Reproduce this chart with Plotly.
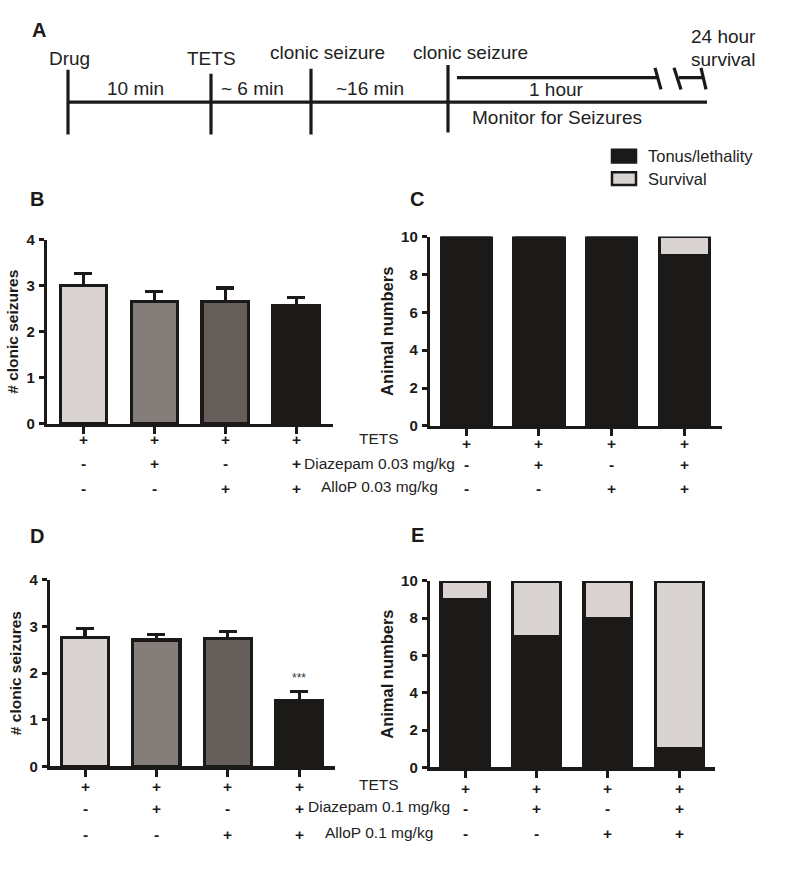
import plotly.graph_objects as go

# ---------------- data ----------------
groups = ["G1", "G2", "G3", "G4"]
tets_row = ["+", "+", "+", "+"]
diaz_row = ["-", "+", "-", "+"]
allo_row = ["-", "-", "+", "+"]

# Panel B (0.03 mg/kg): clonic seizures mean and SEM
b_mean = [3.00, 2.65, 2.65, 2.56]
b_sem = [0.26, 0.23, 0.30, 0.19]
# Panel D (0.1 mg/kg)
d_mean = [2.76, 2.71, 2.74, 1.41]
d_sem = [0.20, 0.12, 0.16, 0.20]
d_sig = ["", "", "", "***"]

# Panels C / E: animal numbers
c_tonus = [10, 10, 10, 9]
c_surv = [0, 0, 0, 1]
e_tonus = [9, 7, 8, 1]
e_surv = [1, 3, 2, 9]

legend_names = ["Tonus/lethality", "Survival"]
row_labels_b = ["TETS", "Diazepam 0.03 mg/kg", "AlloP 0.03 mg/kg"]
row_labels_d = ["TETS", "Diazepam 0.1 mg/kg", "AlloP 0.1 mg/kg"]

# Timeline schematic (panel A), schematic units on a hidden axis
tl_events = ["Drug", "TETS", "clonic seizure", "clonic seizure"]
tl_event_pos = [68, 211, 311, 448]
tl_intervals = ["10 min", "~ 6 min", "~16 min"]
tl_end = 707
tl_monitor_start = 457
tl_break = [657, 678]

# ---------------- style ----------------
FONT = "Liberation Sans, Arial, sans-serif"
INK = "#1b1a18"
bar_colors = ["#d9d4d1", "#857d79", "#665e5a", "#1b1a17"]
LIGHT = "#d9d4d1"

W, H = 800, 895

def px(x):
    return x / W

def py(y):
    return 1 - y / H

fig = go.Figure()

# ---------- panel A timeline (hidden axis x5/y5 in schematic units) ----------
def tl_line(xs, ys):
    fig.add_trace(go.Scatter(x=xs, y=ys, mode="lines", xaxis="x5", yaxis="y5",
                             line=dict(color=INK, width=3.2), showlegend=False,
                             hoverinfo="skip"))

tl_line([tl_event_pos[0], tl_end], [95, 95])
v_tops = [62, 66, 61, 57]
v_bots = [128, 128, 128, 126]
for xp, t, b in zip(tl_event_pos, v_tops, v_bots):
    tl_line([xp, xp], [t, b])
# 1 hour bar with break
tl_line([tl_monitor_start, tl_break[0] + 1], [70, 70])
tl_line([tl_break[0] - 2, tl_break[0] + 4], [60, 82])
tl_line([tl_break[1] - 4, tl_break[1] + 3], [60, 82])
tl_line([tl_break[1] + 1, tl_end - 3], [70, 70])
tl_line([tl_end - 6, tl_end - 1], [60, 82])

annotations = []
shapes = []

def tl_text(text, x, y):
    annotations.append(dict(text=text, x=x, y=y, xref="x5", yref="y5", showarrow=False,
                            xanchor="center", yanchor="middle",
                            font=dict(family=FONT, size=19, color="#222")))

ev_text_pos = [(69, 50), (211, 50), (327, 44), (470, 44)]
for t, (x, y) in zip(tl_events, ev_text_pos):
    tl_text(t, x, y)
iv_pos = [135, 252, 370]
for t, x in zip(tl_intervals, iv_pos):
    tl_text(t, x, 81)
tl_text("1 hour", 556, 82)
tl_text("Monitor for Seizures", 557, 111)
tl_text("24 hour", 723, 28)
tl_text("survival", 723, 51)

# ---------- panel B ----------
xi = list(range(len(groups)))
fig.add_trace(go.Bar(x=xi, y=b_mean, xaxis="x", yaxis="y", width=0.65,
                     marker=dict(color=bar_colors, line=dict(color=INK, width=3.2)),
                     error_y=dict(type="data", symmetric=False, array=b_sem,
                                  arrayminus=[0] * 4, color=INK, thickness=3.2, width=9),
                     showlegend=False, cliponaxis=False))
# ---------- panel D ----------
fig.add_trace(go.Bar(x=xi, y=d_mean, xaxis="x3", yaxis="y3", width=0.66,
                     marker=dict(color=bar_colors, line=dict(color=INK, width=3.2)),
                     error_y=dict(type="data", symmetric=False, array=d_sem,
                                  arrayminus=[0] * 4, color=INK, thickness=3.2, width=9),
                     showlegend=False, cliponaxis=False))
for i, (m, s, t) in enumerate(zip(d_mean, d_sem, d_sig)):
    if t:
        annotations.append(dict(text=t, x=i, y=m + s, xref="x3", yref="y3",
                                showarrow=False, yanchor="bottom", yshift=4,
                                font=dict(family=FONT, size=12, color="#333")))

# ---------- panels C and E (stacked) ----------
for xr, yr, tonus, surv, wd in [("x2", "y2", c_tonus, c_surv, 0.69),
                                ("x4", "y4", e_tonus, e_surv, 0.67)]:
    fig.add_trace(go.Bar(x=xi, y=tonus, xaxis=xr, yaxis=yr, width=wd,
                         name=legend_names[0],
                         marker=dict(color=INK, line=dict(color=INK, width=3.2)),
                         cliponaxis=False, showlegend=False))
    fig.add_trace(go.Bar(x=xi, y=surv, xaxis=xr, yaxis=yr, width=wd,
                         name=legend_names[1],
                         marker=dict(color=LIGHT, line=dict(color=INK, width=3.2)),
                         cliponaxis=False, showlegend=False))

# legend (drawn as key boxes + labels)
for name, fill, yc in zip(legend_names, [INK, LIGHT], [150, 173]):
    shapes.append(dict(type="rect", xref="paper", yref="paper",
                       x0=px(612), x1=px(636), y0=py(yc - 6.5), y1=py(yc + 6.5),
                       fillcolor=fill, line=dict(color=INK, width=2.5)))
    annotations.append(dict(text=name, x=px(646), y=py(yc), xref="paper", yref="paper",
                            showarrow=False, xanchor="left", yanchor="middle",
                            font=dict(family=FONT, size=16.5, color="#222")))

# ---------- axes ----------
tickfont = dict(family=FONT, size=15, color=INK, weight="bold")

def xax(domain, rng, anchor):
    return dict(domain=domain, range=rng, anchor=anchor, showgrid=False, zeroline=False,
                showline=True, linecolor=INK, linewidth=3.2, ticks="outside",
                tickvals=xi, ticklen=7, tickwidth=3, tickcolor=INK,
                showticklabels=False, fixedrange=True)

def yax(domain, rng, dtick, anchor, title, tsize, standoff):
    return dict(domain=domain, range=rng, anchor=anchor, showgrid=False, zeroline=False,
                showline=True, linecolor=INK, linewidth=3.2, ticks="outside",
                ticklen=5, tickwidth=3, tickcolor=INK, dtick=dtick, tick0=0,
                tickfont=tickfont, ticklabelstandoff=1,
                title=dict(text=title, standoff=standoff,
                           font=dict(family=FONT, size=tsize, color=INK, weight="bold")),
                fixedrange=True)

layout_axes = dict(
    xaxis=xax([px(47), px(333)], [-0.51, 3.52], "y"),
    yaxis=yax([py(423), py(235)], [0, 4], 1, "x", "# clonic seizures", 15.5, 5),
    xaxis2=xax([px(430), px(722)], [-0.5, 3.52], "y2"),
    yaxis2=yax([py(425), py(232)], [0, 10], 2, "x2", "Animal numbers", 16.5, 4),
    xaxis3=xax([px(50), px(335)], [-0.49, 3.5], "y3"),
    yaxis3=yax([py(772), py(582)], [0, 4], 1, "x3", "# clonic seizures", 15.5, 5),
    xaxis4=xax([px(430), px(715)], [-0.49, 3.5], "y4"),
    yaxis4=yax([py(773), py(583)], [0, 10], 2, "x4", "Animal numbers", 16.5, 4),
    xaxis5=dict(domain=[0, 1], range=[0, W], visible=False, fixedrange=True),
    yaxis5=dict(domain=[py(140), 1], range=[140, 0], visible=False, fixedrange=True),
)

# ---------- +/- rows under the bars ----------
mark_font = dict(family=FONT, size=15.5, color=INK, weight="bold")
rows = [tets_row, diaz_row, allo_row]
panel_rows = [("x", "y", [16, 40, 65]), ("x2", "y2", [18, 39, 63]),
              ("x3", "y3", [20, 42, 68]), ("x4", "y4", [21, 41, 66])]
for xr, yr, offs in panel_rows:
    for row, off in zip(rows, offs):
        for i, s in enumerate(row):
            annotations.append(dict(text=s, x=i, y=0, xref=xr, yref=yr, showarrow=False,
                                    xanchor="center", yanchor="middle", yshift=-off,
                                    font=mark_font))

label_font = dict(family=FONT, size=15.5, color="#222")
for labels, ys in [(row_labels_b, [438, 463, 487]), (row_labels_d, [791, 813, 839])]:
    for t, y in zip(labels, ys):
        annotations.append(dict(text=t, x=px(379), y=py(y), xref="paper", yref="paper",
                                showarrow=False, xanchor="center", yanchor="middle",
                                font=label_font))

# panel letters
for t, (x, y) in zip(["A", "B", "C", "D", "E"],
                     [(39, 21), (37, 194), (417, 194), (37, 537), (417, 536)]):
    annotations.append(dict(text=t, x=px(x), y=py(y), xref="paper", yref="paper",
                            showarrow=False, xanchor="center", yanchor="middle",
                            font=dict(family=FONT, size=20, color=INK, weight="bold")))

fig.update_layout(
    width=W, height=H, margin=dict(l=0, r=0, t=0, b=0),
    paper_bgcolor="white", plot_bgcolor="white",
    barmode="stack", bargap=0.3, showlegend=False,
    font=dict(family=FONT, color=INK),
    annotations=annotations, shapes=shapes,
    **layout_axes,
)

fig.write_html("out.html", config={"displayModeBar": False, "staticPlot": True},
               post_script="document.body.style.margin='0';document.body.style.overflow='hidden';")
